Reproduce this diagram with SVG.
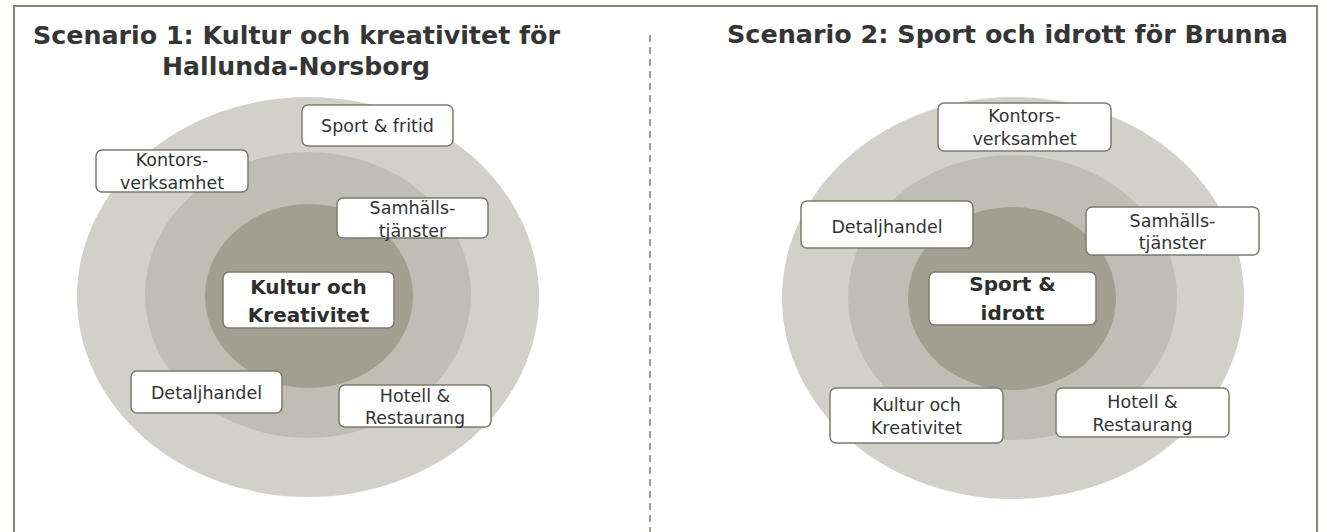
<svg xmlns="http://www.w3.org/2000/svg" width="1327" height="532" viewBox="0 0 1327 532">
  <style>
    .title { font-family: "DejaVu Sans", "Liberation Sans", sans-serif; font-weight: bold; font-size: 24px; fill: #353535; }
    .box { fill: #ffffff; stroke: #7d7b6b; stroke-width: 1.5; }
    .lbl { font-family: "DejaVu Sans", "Liberation Sans", sans-serif; font-size: 17.5px; fill: #333333; text-anchor: middle; }
    .core { font-family: "DejaVu Sans", "Liberation Sans", sans-serif; font-weight: bold; font-size: 20px; fill: #2e2e2e; text-anchor: middle; }
    .r1 { fill: #d1d0c9; }
    .r2 { fill: #bfbeb4; }
    .r3 { fill: #a19f92; }
  </style>
  <rect x="0" y="0" width="1327" height="532" fill="#ffffff"/>
  <rect x="14" y="6" width="1303" height="540" fill="none" stroke="#878572" stroke-width="2"/>

  <g id="connectors">
    <line x1="650" y1="35" x2="650" y2="532" stroke="#7f7d6c" stroke-width="1.5" stroke-dasharray="7 5"/>
  </g>

  <g id="title1">
    <text class="title" x="33" y="44" textLength="527" lengthAdjust="spacingAndGlyphs">Scenario 1: Kultur och kreativitet för</text>
    <text class="title" x="162" y="75" textLength="268" lengthAdjust="spacingAndGlyphs">Hallunda-Norsborg</text>
  </g>
  <g id="title2">
    <text class="title" x="727" y="43" textLength="561" lengthAdjust="spacingAndGlyphs">Scenario 2: Sport och idrott för Brunna</text>
  </g>

  <g id="rings1">
    <ellipse class="r1" cx="308" cy="297" rx="231" ry="200"/>
    <ellipse class="r2" cx="308" cy="295" rx="163" ry="143"/>
    <ellipse class="r3" cx="309" cy="296" rx="104" ry="92"/>
  </g>
  <g id="rings2">
    <ellipse class="r1" cx="1013" cy="298" rx="231" ry="201"/>
    <ellipse class="r2" cx="1012.5" cy="297.5" rx="164.5" ry="142.5"/>
    <ellipse class="r3" cx="1012" cy="298.5" rx="104" ry="91.5"/>
  </g>

  <g id="s1-sport">
    <rect class="box" x="302" y="105" width="151" height="41" rx="6"/>
    <text class="lbl" x="377.5" y="132">Sport &amp; fritid</text>
  </g>
  <g id="s1-kontor">
    <rect class="box" x="96" y="150" width="152" height="42" rx="6"/>
    <text class="lbl" x="172" y="166">Kontors-</text>
    <text class="lbl" x="172" y="189">verksamhet</text>
  </g>
  <g id="s1-samhalls">
    <rect class="box" x="337" y="198" width="151" height="40" rx="6"/>
    <text class="lbl" x="412.5" y="214">Samhälls-</text>
    <text class="lbl" x="412.5" y="237">tjänster</text>
  </g>
  <g id="s1-core">
    <rect class="box" x="223" y="272" width="171" height="56" rx="6"/>
    <text class="core" x="308.5" y="294">Kultur och</text>
    <text class="core" x="308.5" y="322">Kreativitet</text>
  </g>
  <g id="s1-detalj">
    <rect class="box" x="131" y="371" width="151" height="42" rx="6"/>
    <text class="lbl" x="206.5" y="399">Detaljhandel</text>
  </g>
  <g id="s1-hotell">
    <rect class="box" x="339" y="385" width="152" height="42" rx="6"/>
    <text class="lbl" x="415" y="402">Hotell &amp;</text>
    <text class="lbl" x="415" y="424">Restaurang</text>
  </g>

  <g id="s2-kontor">
    <rect class="box" x="938" y="103" width="173" height="48" rx="6"/>
    <text class="lbl" x="1024.5" y="122">Kontors-</text>
    <text class="lbl" x="1024.5" y="145">verksamhet</text>
  </g>
  <g id="s2-detalj">
    <rect class="box" x="801" y="201" width="172" height="47" rx="6"/>
    <text class="lbl" x="887" y="233">Detaljhandel</text>
  </g>
  <g id="s2-samhalls">
    <rect class="box" x="1086" y="207" width="173" height="48" rx="6"/>
    <text class="lbl" x="1172.5" y="227">Samhälls-</text>
    <text class="lbl" x="1172.5" y="249">tjänster</text>
  </g>
  <g id="s2-core">
    <rect class="box" x="929" y="272" width="167" height="53" rx="6"/>
    <text class="core" x="1012.5" y="291">Sport &amp;</text>
    <text class="core" x="1012.5" y="320">idrott</text>
  </g>
  <g id="s2-kultur">
    <rect class="box" x="830" y="388" width="173" height="55" rx="6"/>
    <text class="lbl" x="916.5" y="411">Kultur och</text>
    <text class="lbl" x="916.5" y="434">Kreativitet</text>
  </g>
  <g id="s2-hotell">
    <rect class="box" x="1056" y="388" width="173" height="49" rx="6"/>
    <text class="lbl" x="1142.5" y="408">Hotell &amp;</text>
    <text class="lbl" x="1142.5" y="431">Restaurang</text>
  </g>
</svg>
